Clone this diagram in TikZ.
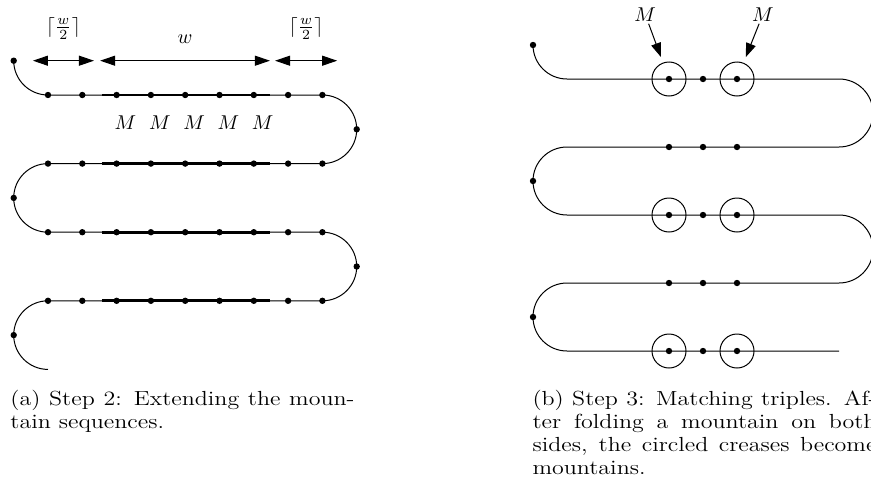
\documentclass[tikz,border=0pt]{standalone}
\usepackage{graphicx}
\usetikzlibrary{arrows.meta, calc, positioning}
\usepackage{xcolor}

\tikzset{
  span/.style={{Triangle[length=7.5pt,width=5pt]}-{Triangle[length=7.5pt,width=5pt]}},
  pointer/.style={-{Triangle[length=7pt,width=5pt]}, shorten >=3pt},
  ring/.style={draw, circle, minimum size=17pt, inner sep=0pt},
  mlabel/.style={inner sep=1pt},
  captiontext/.style={anchor=north west, inner sep=0pt, font=\fontsize{12}{13.5}\selectfont},
}

\begin{document}
\begin{tikzpicture}[x=0.5pt, y=0.5pt, line width=0.5pt]
  \useasboundingbox (0,0) rectangle (871,489);
  \clip (0,0) rectangle (871,489);

  % (a) extending the mountain sequences
  \begin{scope}[shift={(48,394)}, x=17.15pt, y=17.15pt]
    % strip
    \draw (-1,1) arc (180:270:1) -- (8,0) arc (90:-90:1) -- (0,-2) arc (90:270:1)
      -- (8,-4) arc (90:-90:1) -- (0,-6) arc (90:270:1);
    % mountain sequences
    \foreach \r in {0,-2,-4,-6}
      \draw[line width=1.4pt] (1.57,\r) -- (6.48,\r);
    % creases
    \foreach \r in {0,-2,-4,-6}
      \foreach \i in {0,...,8}
        \fill (\i,\r) circle (1.6pt);
    \foreach \p in {(-1,1), (9,-1), (-1,-3), (9,-5), (-1,-7)}
      \fill \p circle (1.6pt);
    % widths
    \draw[span] (-0.44,1) -- node[above=7pt] (halfl) {$\lceil\frac{w}{2}\rceil$} (1.34,1);
    \draw[span] (1.52,1) -- node[above=5pt] (width) {$w$} (6.47,1);
    \draw[span] (6.62,1) -- node[above=7pt] (halfr) {$\lceil\frac{w}{2}\rceil$} (8.43,1);
    % labels
    \foreach \i [count=\k] in {2,...,6}
      \node[mlabel] (m\k) at (\i+0.26,-0.8) {$M$};
  \end{scope}

  % (b) matching triples
  \begin{scope}[shift={(703,410)}, x=17pt, y=17pt]
    % strip
    \draw (-5,1) arc (180:270:1) -- (4,0) arc (90:-90:1) -- (-4,-2) arc (90:270:1)
      -- (4,-4) arc (90:-90:1) -- (-4,-6) arc (90:270:1) -- (4,-8);
    % creases
    \foreach \r in {0,...,4}
      \foreach \i in {-1,0,1}
        \fill (\i,-2*\r) circle (1.6pt);
    \foreach \p in {(-5,1), (-5,-3), (-5,-7)}
      \fill \p circle (1.6pt);
    % circled creases
    \node[ring] (ta) at (-1,0) {};
    \node[ring] (tb) at (1,0) {};
    \node[ring] (ca) at (-1,-4) {};
    \node[ring] (cb) at (1,-4) {};
    \node[ring] (ba) at (-1,-8) {};
    \node[ring] (bb) at (1,-8) {};
    % mountains
    \node[mlabel] (mtl) at (-1.7,1.9) {$M$};
    \node[mlabel] (mtr) at (1.76,1.9) {$M$};
    \draw[pointer] (mtl) -- (ta);
    \draw[pointer] (mtr) -- (tb);
  \end{scope}

  % captions
  \node[captiontext] (capa) at (10,99) {\scalebox{1}[0.85]{\parbox[t]{172pt}{%
    (a) Step 2: Extending the moun-\linebreak tain sequences.}}};
  \node[captiontext] (capb) at (532,99) {\scalebox{1}[0.85]{\parbox[t]{172pt}{%
    (b) Step 3: Matching triples. Af-\linebreak ter folding a mountain on both\linebreak
    sides, the circled creases become\linebreak mountains.}}};
\end{tikzpicture}
\end{document}
